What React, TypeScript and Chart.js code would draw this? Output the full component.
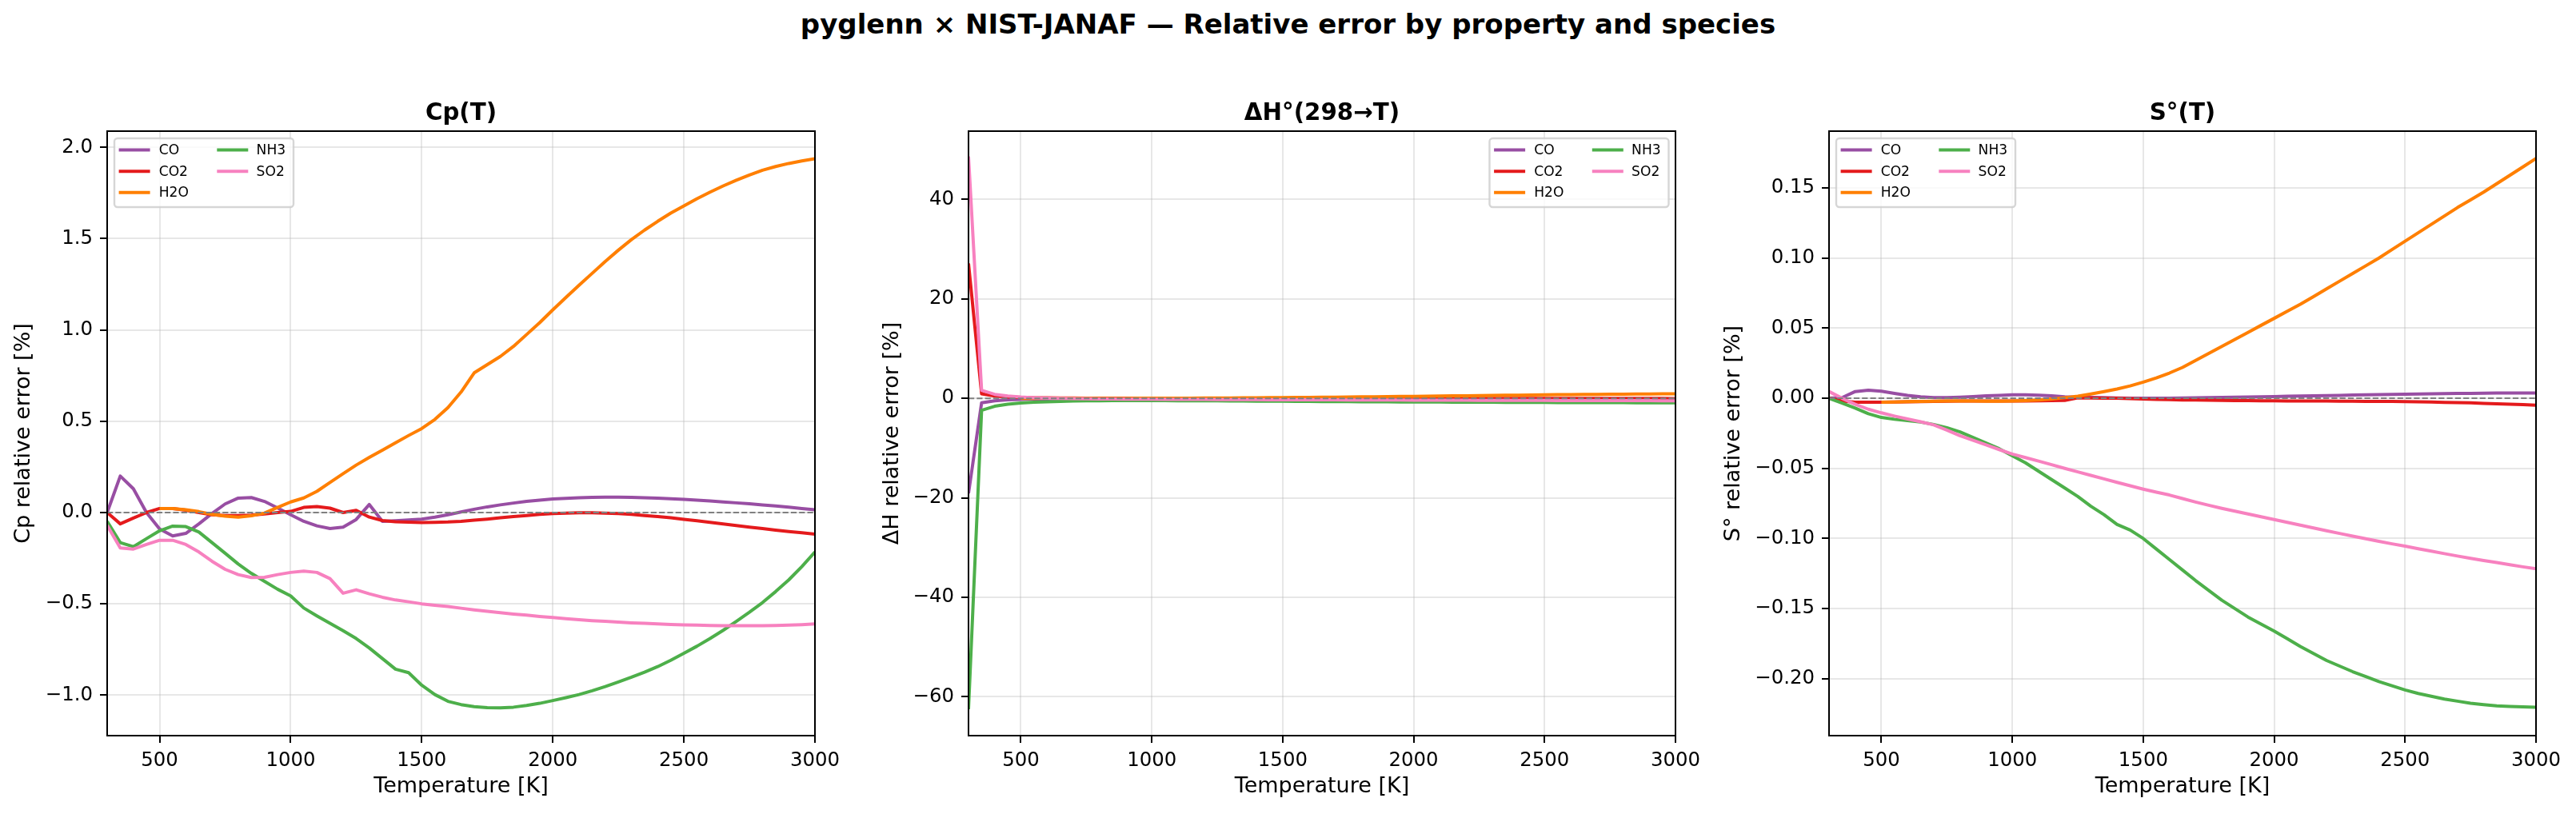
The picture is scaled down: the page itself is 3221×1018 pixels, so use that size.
import React, { useEffect, useRef } from 'react';
import { Chart, registerables } from 'chart.js';

Chart.register(...registerables);

// Temperature grid [K], 50 K steps
const temps = [
  300, 350, 400, 450, 500, 550, 600, 650, 700, 750,
  800, 850, 900, 950, 1000, 1050, 1100, 1150, 1200, 1250,
  1300, 1350, 1400, 1450, 1500,
  1550, 1600, 1650, 1700, 1750, 1800, 1850, 1900, 1950, 2000,
  2050, 2100, 2150, 2200, 2250, 2300, 2350, 2400, 2450, 2500,
  2550, 2600, 2650, 2700, 2750, 2800, 2850, 2900, 2950, 3000,
];

const species = ['CO', 'CO2', 'H2O', 'NH3', 'SO2'];
const speciesColors = ['#984ea3', '#e41a1c', '#ff7f00', '#4daf4a', '#f781bf'];

// Cp relative error [%]
const cpCO = [
  0.0, 0.20, 0.13, 0.0, -0.09, -0.128, -0.114, -0.062, -0.005, 0.047,
  0.079, 0.082, 0.061, 0.025, -0.012, -0.048, -0.073, -0.088, -0.08, -0.038,
  0.044, -0.048, -0.045, -0.041, -0.036,
  -0.025, -0.012, 0.003, 0.018, 0.031, 0.042, 0.052, 0.061, 0.068, 0.074,
  0.078, 0.081, 0.083, 0.084, 0.084, 0.083, 0.081, 0.079, 0.076, 0.072,
  0.068, 0.063, 0.058, 0.053, 0.048, 0.042, 0.036, 0.029, 0.022, 0.015,
];
const cpCO2 = [
  0.0, -0.062, -0.03, 0.0, 0.022, 0.022, 0.013, 0.0, -0.012, -0.016,
  -0.017, -0.014, -0.008, 0.0, 0.006, 0.028, 0.033, 0.024, 0.0, 0.012,
  -0.025, -0.044, -0.05, -0.053, -0.055,
  -0.054, -0.052, -0.048, -0.042, -0.036, -0.029, -0.022, -0.016, -0.01, -0.006,
  -0.003, -0.001, -0.001, -0.003, -0.006, -0.01, -0.016, -0.022, -0.029, -0.037,
  -0.045, -0.054, -0.062, -0.071, -0.08, -0.088, -0.096, -0.104, -0.111, -0.118,
];
const cpH2O = [
  null, null, null, null, 0.022, 0.022, 0.015, 0.005, -0.01, -0.02,
  -0.025, -0.018, -0.003, 0.028, 0.058, 0.08, 0.116, 0.165, 0.213, 0.26,
  0.302, 0.342, 0.382, 0.422, 0.46,
  0.51, 0.575, 0.66, 0.765, 0.81, 0.855, 0.91, 0.975, 1.04, 1.11,
  1.178, 1.245, 1.31, 1.375, 1.437, 1.495, 1.547, 1.595, 1.64, 1.68,
  1.719, 1.755, 1.789, 1.82, 1.849, 1.875, 1.895, 1.912, 1.926, 1.938,
];
const cpNH3 = [
  -0.048, -0.165, -0.187, -0.143, -0.1, -0.074, -0.077, -0.107, -0.165, -0.223,
  -0.282, -0.333, -0.377, -0.42, -0.457, -0.523, -0.566, -0.607, -0.647, -0.69,
  -0.742, -0.8, -0.858, -0.877, -0.946,
  -0.997, -1.034, -1.052, -1.063, -1.069, -1.07, -1.066, -1.057, -1.045, -1.03,
  -1.014, -0.997, -0.976, -0.953, -0.928, -0.902, -0.874, -0.844, -0.809, -0.771,
  -0.732, -0.69, -0.645, -0.596, -0.546, -0.493, -0.433, -0.369, -0.296, -0.216,
];
const cpSO2 = [
  -0.07, -0.194, -0.2, -0.175, -0.152, -0.152, -0.175, -0.216, -0.267, -0.311,
  -0.34, -0.356, -0.355, -0.34, -0.328, -0.321, -0.328, -0.362, -0.442, -0.423,
  -0.445, -0.464, -0.479, -0.489, -0.5,
  -0.508, -0.515, -0.524, -0.533, -0.541, -0.549, -0.556, -0.562, -0.569, -0.575,
  -0.581, -0.587, -0.592, -0.596, -0.6, -0.604, -0.607, -0.61, -0.613, -0.615,
  -0.617, -0.619, -0.62, -0.62, -0.62, -0.62, -0.619, -0.617, -0.614, -0.61,
];

// ΔH°(298→T) relative error [%]
const dhCO = [
  -19.1, -0.9, -0.5, -0.3, -0.2, -0.15, -0.12, -0.1, -0.09, -0.08,
  -0.07, -0.07, -0.06, -0.06, -0.06, -0.06, -0.06, -0.06, -0.06, -0.06,
  -0.06, -0.06, -0.06, -0.06, -0.06,
  -0.065, -0.07, -0.075, -0.08, -0.09, -0.1, -0.11, -0.12, -0.13, -0.14,
  -0.15, -0.16, -0.17, -0.18, -0.19, -0.2, -0.21, -0.22, -0.23, -0.24,
  -0.25, -0.26, -0.27, -0.28, -0.29, -0.3, -0.31, -0.32, -0.33, -0.34,
];
const dhCO2 = [
  27.1, 0.9, 0.45, 0.28, 0.18, 0.12, 0.09, 0.07, 0.05, 0.04,
  0.03, 0.03, 0.02, 0.02, 0.02, 0.02, 0.02, 0.02, 0.02, 0.02,
  0.01, 0.01, 0.01, 0.0, 0.0,
  0.0, 0.0, -0.005, -0.01, -0.01, -0.01, -0.01, -0.01, -0.01, -0.01,
  -0.01, -0.01, -0.01, -0.01, -0.015, -0.02, -0.02, -0.02, -0.02, -0.02,
  -0.02, -0.02, -0.025, -0.03, -0.03, -0.03, -0.03, -0.03, -0.035, -0.04,
];
const dhH2O = [
  null, null, null, null, 0.0, 0.0, 0.01, 0.01, 0.01, 0.0,
  0.0, 0.0, 0.0, 0.01, 0.01, 0.02, 0.03, 0.04, 0.05, 0.06,
  0.08, 0.09, 0.11, 0.13, 0.15,
  0.17, 0.19, 0.215, 0.24, 0.265, 0.29, 0.315, 0.34, 0.37, 0.4,
  0.43, 0.46, 0.49, 0.52, 0.55, 0.58, 0.61, 0.64, 0.67, 0.7,
  0.725, 0.75, 0.775, 0.8, 0.82, 0.84, 0.86, 0.88, 0.9, 0.92,
];
const dhNH3 = [
  -62.5, -2.4, -1.6, -1.2, -0.95, -0.8, -0.7, -0.62, -0.56, -0.52,
  -0.5, -0.48, -0.47, -0.47, -0.47, -0.48, -0.49, -0.5, -0.51, -0.52,
  -0.54, -0.55, -0.57, -0.58, -0.6,
  -0.615, -0.63, -0.645, -0.66, -0.675, -0.69, -0.705, -0.72, -0.73, -0.74,
  -0.75, -0.76, -0.77, -0.78, -0.79, -0.8, -0.81, -0.82, -0.83, -0.84,
  -0.85, -0.86, -0.865, -0.87, -0.875, -0.88, -0.885, -0.89, -0.895, -0.9,
];
const dhSO2 = [
  48.6, 1.6, 0.8, 0.45, 0.25, 0.12, 0.04, -0.02, -0.06, -0.09,
  -0.12, -0.14, -0.16, -0.18, -0.19, -0.2, -0.21, -0.22, -0.23, -0.24,
  -0.25, -0.26, -0.27, -0.28, -0.29,
  -0.295, -0.3, -0.31, -0.32, -0.33, -0.34, -0.345, -0.35, -0.36, -0.37,
  -0.375, -0.38, -0.39, -0.4, -0.405, -0.41, -0.415, -0.42, -0.43, -0.44,
  -0.445, -0.45, -0.455, -0.46, -0.465, -0.47, -0.475, -0.48, -0.49, -0.5,
];

// S°(T) relative error [%]
const sCO = [
  0.0, 0.0005, 0.0048, 0.0057, 0.005, 0.0035, 0.002, 0.001, 0.0004, 0.0004,
  0.0007, 0.0012, 0.0017, 0.0021, 0.0024, 0.0024, 0.0022, 0.0017, 0.0011, 0.0008,
  0.0006, 0.0004, 0.0002, 0.0001, 0.0,
  0.0, 0.0001, 0.0002, 0.0003, 0.0005, 0.0006, 0.0008, 0.0009, 0.0011, 0.0012,
  0.0014, 0.0016, 0.0018, 0.0019, 0.0021, 0.0023, 0.0025, 0.0026, 0.0028, 0.0029,
  0.0031, 0.0032, 0.0033, 0.0034, 0.0035, 0.0036, 0.0037, 0.0037, 0.0038, 0.0038,
];
const sCO2 = [
  0.0, -0.002, -0.0028, -0.0028, -0.0028, -0.0027, -0.0025, -0.0024, -0.0022, -0.0021,
  -0.002, -0.002, -0.002, -0.002, -0.002, -0.0019, -0.0018, -0.0017, -0.0015, 0.0003,
  0.0002, 0.0001, 0.0, -0.0002, -0.0005,
  -0.0008, -0.001, -0.0012, -0.0013, -0.0014, -0.0015, -0.0016, -0.0017, -0.0018, -0.0018,
  -0.0019, -0.0019, -0.002, -0.002, -0.0021, -0.0021, -0.0022, -0.0022, -0.0023, -0.0024,
  -0.0025, -0.0027, -0.0029, -0.0031, -0.0033, -0.0036, -0.0039, -0.0042, -0.0045, -0.0049,
];
const sH2O = [
  null, null, null, null, -0.0028, -0.0026, -0.0024, -0.0022, -0.0021, -0.002,
  -0.002, -0.002, -0.0021, -0.0021, -0.002, -0.0017, -0.0012, -0.0005, 0.0004, 0.0015,
  0.003, 0.0047, 0.0066, 0.0088, 0.0115,
  0.0145, 0.018, 0.022, 0.027, 0.032, 0.037, 0.042, 0.047, 0.052, 0.057,
  0.062, 0.067, 0.0725, 0.078, 0.0835, 0.089, 0.0945, 0.1, 0.106, 0.112,
  0.118, 0.124, 0.13, 0.136, 0.1415, 0.147, 0.153, 0.159, 0.165, 0.171,
];
const sNH3 = [
  0.0, -0.0035, -0.007, -0.011, -0.0137, -0.015, -0.016, -0.017, -0.0187, -0.021,
  -0.024, -0.028, -0.032, -0.036, -0.041, -0.046, -0.052, -0.058, -0.064, -0.07,
  -0.077, -0.083, -0.09, -0.094, -0.1,
  -0.1075, -0.115, -0.1225, -0.13, -0.137, -0.144, -0.15, -0.156, -0.161, -0.166,
  -0.1715, -0.177, -0.182, -0.187, -0.191, -0.195, -0.1985, -0.202, -0.205, -0.208,
  -0.2105, -0.2125, -0.2145, -0.216, -0.2175, -0.2185, -0.2193, -0.2198, -0.2201, -0.2203,
];
const sSO2 = [
  0.0048, 0.0, -0.0043, -0.0078, -0.0104, -0.0127, -0.0148, -0.0168, -0.019, -0.0227,
  -0.0267, -0.03, -0.0333, -0.0366, -0.0398, -0.0423, -0.0448, -0.0474, -0.05, -0.0525,
  -0.055, -0.0575, -0.06, -0.0624, -0.0648,
  -0.067, -0.069, -0.0715, -0.074, -0.0763, -0.0785, -0.0805, -0.0825, -0.0845, -0.0865,
  -0.0885, -0.0905, -0.0925, -0.0945, -0.0964, -0.0983, -0.1002, -0.102, -0.1038, -0.1055,
  -0.1073, -0.109, -0.1108, -0.1125, -0.1141, -0.1157, -0.1172, -0.1187, -0.1202, -0.1216,
];

// Tick positions and labels
const tempTicks = [500, 1000, 1500, 2000, 2500, 3000];
const cpTicks = [-1.0, -0.5, 0.0, 0.5, 1.0, 1.5, 2.0];
const cpTickLabels = ['\u22121.0', '\u22120.5', '0.0', '0.5', '1.0', '1.5', '2.0'];
const dhTicks = [-60, -40, -20, 0, 20, 40];
const dhTickLabels = ['\u221260', '\u221240', '\u221220', '0', '20', '40'];
const sTicks = [-0.2, -0.15, -0.1, -0.05, 0.0, 0.05, 0.1, 0.15];
const sTickLabels = ['\u22120.20', '\u22120.15', '\u22120.10', '\u22120.05', '0.00', '0.05', '0.10', '0.15'];

const FIG_W = 3221;
const FIG_H = 1018;
const AXES_TOP = 164;
const AXES_BOTTOM = 920;
const PAD_RIGHT = 40;
const PAD_BOTTOM = 18;
const LINE_W = 4;
const FONT = "'DejaVu Sans', sans-serif";

type PanelSpec = {
  title: string;
  yTitle: string;
  series: (number | null)[][];
  yMin: number;
  yMax: number;
  ticks: number[];
  tickLabels: string[];
  legendRight: boolean;
  canvasLeft: number;
  axisLeft: number;
  axisRight: number;
};

const panels: PanelSpec[] = [
  {
    title: 'Cp(T)', yTitle: 'Cp relative error [%]',
    series: [cpCO, cpCO2, cpH2O, cpNH3, cpSO2],
    yMin: -1.222, yMax: 2.089, ticks: cpTicks, tickLabels: cpTickLabels,
    legendRight: false, canvasLeft: 14, axisLeft: 134, axisRight: 1019,
  },
  {
    title: '\u0394H\u00b0(298\u2192T)', yTitle: '\u0394H relative error [%]',
    series: [dhCO, dhCO2, dhH2O, dhNH3, dhSO2],
    yMin: -67.8, yMax: 53.7, ticks: dhTicks, tickLabels: dhTickLabels,
    legendRight: true, canvasLeft: 1100, axisLeft: 1211, axisRight: 2095,
  },
  {
    title: 'S\u00b0(T)', yTitle: 'S\u00b0 relative error [%]',
    series: [sCO, sCO2, sH2O, sNH3, sSO2],
    yMin: -0.2406, yMax: 0.1905, ticks: sTicks, tickLabels: sTickLabels,
    legendRight: false, canvasLeft: 2152, axisLeft: 2287, axisRight: 3171,
  },
];

// Title, spines, zero reference line and the two-column legend
function decorPlugin(p: PanelSpec) {
  return {
    id: 'panelDecor',
    afterDatasetsDraw(chart: any) {
      const { ctx, chartArea: a, scales } = chart;
      const y0 = scales.y.getPixelForValue(0);
      ctx.save();
      ctx.beginPath();
      ctx.rect(a.left, a.top, a.right - a.left, a.bottom - a.top);
      ctx.clip();
      ctx.strokeStyle = '#808080';
      ctx.lineWidth = 2;
      ctx.setLineDash([7.2, 3.1]);
      ctx.beginPath();
      ctx.moveTo(a.left, y0);
      ctx.lineTo(a.right, y0);
      ctx.stroke();
      ctx.restore();
    },
    afterDraw(chart: any) {
      const { ctx, chartArea: a } = chart;
      ctx.save();
      ctx.strokeStyle = '#000';
      ctx.lineWidth = 2;
      ctx.strokeRect(a.left, a.top, a.right - a.left, a.bottom - a.top);

      ctx.fillStyle = '#000';
      ctx.font = `bold 29.3px ${FONT}`;
      ctx.textAlign = 'center';
      ctx.textBaseline = 'alphabetic';
      ctx.fillText(p.title, (a.left + a.right) / 2, 150);

      // legend
      const lw = 224;
      const lh = 86;
      const lx = p.legendRight ? a.right - 8.5 - lw : a.left + 9;
      const ly = a.top + 9;
      const r = 4;
      ctx.beginPath();
      ctx.moveTo(lx + r, ly);
      ctx.lineTo(lx + lw - r, ly);
      ctx.arcTo(lx + lw, ly, lx + lw, ly + r, r);
      ctx.lineTo(lx + lw, ly + lh - r);
      ctx.arcTo(lx + lw, ly + lh, lx + lw - r, ly + lh, r);
      ctx.lineTo(lx + r, ly + lh);
      ctx.arcTo(lx, ly + lh, lx, ly + lh - r, r);
      ctx.lineTo(lx, ly + r);
      ctx.arcTo(lx, ly, lx + r, ly, r);
      ctx.closePath();
      ctx.fillStyle = 'rgba(255,255,255,0.8)';
      ctx.fill();
      ctx.strokeStyle = 'rgba(204,204,204,0.8)';
      ctx.lineWidth = 2.4;
      ctx.stroke();

      const rows = [14.4, 41.3, 67.8];
      const cols = [
        { h0: 5.6, h1: 44.6, tx: 55.7 },
        { h0: 128.3, h1: 167.3, tx: 177.6 },
      ];
      ctx.font = `17.1px ${FONT}`;
      ctx.textAlign = 'left';
      ctx.textBaseline = 'middle';
      species.forEach((name, k) => {
        const col = cols[k < 3 ? 0 : 1];
        const ry = ly + rows[k < 3 ? k : k - 3];
        ctx.strokeStyle = speciesColors[k];
        ctx.lineWidth = LINE_W;
        ctx.beginPath();
        ctx.moveTo(lx + col.h0, ry);
        ctx.lineTo(lx + col.h1, ry);
        ctx.stroke();
        ctx.fillStyle = '#000';
        ctx.fillText(name, lx + col.tx, ry + 1);
      });
      ctx.restore();
    },
  };
}

function Panel({ spec }: { spec: PanelSpec }) {
  const ref = useRef<HTMLCanvasElement | null>(null);
  const width = spec.axisRight + PAD_RIGHT - spec.canvasLeft;

  useEffect(() => {
    if (!ref.current) return;
    const yWidth = spec.axisLeft - spec.canvasLeft;
    const gridStyle = {
      color: 'rgba(176,176,176,0.3)',
      lineWidth: 2,
      tickColor: '#000',
      tickLength: 9,
      tickWidth: 2,
    };
    const chart = new Chart(ref.current, {
      type: 'line',
      data: {
        datasets: species.map((name, k) => ({
          label: name,
          data: temps
            .map((t, i) => ({ x: t, y: spec.series[k][i] }))
            .filter((pt) => pt.y !== null),
          borderColor: speciesColors[k],
          backgroundColor: speciesColors[k],
          borderWidth: LINE_W,
          borderJoinStyle: 'round',
          pointRadius: 0,
          tension: 0,
          fill: false,
          order: species.length - k,
        })),
      },
      options: {
        animation: false,
        responsive: false,
        devicePixelRatio: 1,
        events: [],
        layout: { padding: { top: AXES_TOP, right: PAD_RIGHT, bottom: PAD_BOTTOM, left: 0 } },
        plugins: {
          legend: { display: false },
          title: { display: false },
          tooltip: { enabled: false },
        },
        scales: {
          x: {
            type: 'linear',
            bounds: 'data',
            min: 300,
            max: 3000,
            afterBuildTicks: (s: any) => {
              s.ticks = tempTicks.map((v) => ({ value: v }));
            },
            afterFit: (s: any) => {
              s.height = FIG_H - PAD_BOTTOM - AXES_BOTTOM;
            },
            ticks: {
              autoSkip: false,
              maxRotation: 0,
              padding: 8,
              color: '#000',
              font: { family: FONT, size: 24.4 },
              callback: (v: any) => String(v),
            },
            grid: gridStyle,
            border: { display: false },
            title: {
              display: true,
              text: 'Temperature [K]',
              color: '#000',
              padding: 0,
              font: { family: FONT, size: 27, lineHeight: 1.2 },
            },
          },
          y: {
            type: 'linear',
            bounds: 'data',
            min: spec.yMin,
            max: spec.yMax,
            afterBuildTicks: (s: any) => {
              s.ticks = spec.ticks.map((v) => ({ value: v }));
            },
            afterFit: (s: any) => {
              s.width = yWidth;
            },
            ticks: {
              autoSkip: false,
              padding: 9,
              color: '#000',
              font: { family: FONT, size: 24.4 },
              callback: (v: any) => {
                const idx = spec.ticks.findIndex((t) => Math.abs(t - v) < 1e-9);
                return idx >= 0 ? spec.tickLabels[idx] : '';
              },
            },
            grid: gridStyle,
            border: { display: false },
            title: {
              display: true,
              text: spec.yTitle,
              color: '#000',
              padding: 0,
              font: { family: FONT, size: 27, lineHeight: 1.2 },
            },
          },
        },
      } as any,
      plugins: [decorPlugin(spec)],
    });
    return () => chart.destroy();
  }, [spec]);

  return (
    <canvas
      ref={ref}
      width={width}
      height={FIG_H}
      style={{ position: 'absolute', left: spec.canvasLeft, top: 0, width, height: FIG_H }}
    />
  );
}

export default function App() {
  useEffect(() => {
    document.body.style.margin = '0';
  }, []);
  return (
    <div style={{ position: 'relative', width: FIG_W, height: FIG_H, background: '#fff', overflow: 'hidden' }}>
      <div
        style={{
          position: 'absolute',
          left: 0,
          top: 10,
          width: FIG_W,
          textAlign: 'center',
          fontFamily: FONT,
          fontWeight: 'bold',
          fontSize: 34,
          lineHeight: '40px',
          color: '#000',
          whiteSpace: 'nowrap',
        }}
      >
        pyglenn × NIST-JANAF — Relative error by property and species
      </div>
      {panels.map((p, i) => (
        <Panel key={i} spec={p} />
      ))}
    </div>
  );
}
